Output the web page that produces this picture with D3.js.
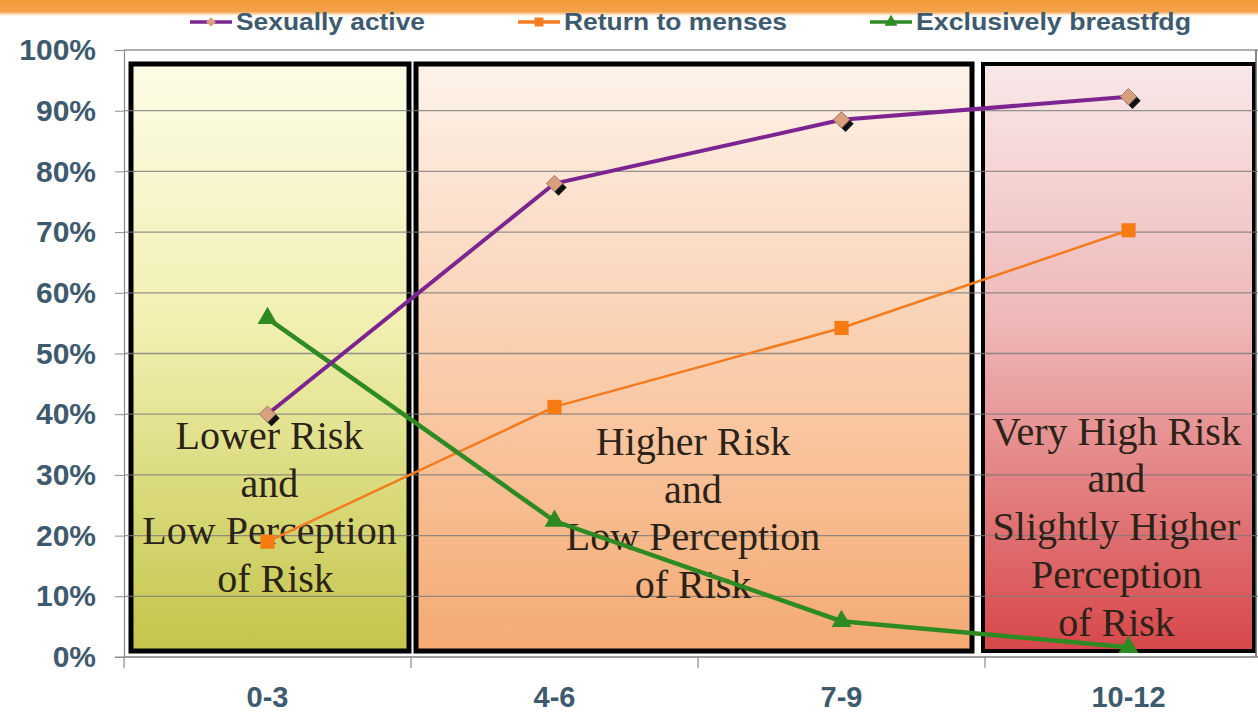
<!DOCTYPE html>
<html>
<head>
<meta charset="utf-8">
<script src="https://cdn.jsdelivr.net/npm/d3@7"></script>
<style>
  html, body { margin: 0; padding: 0; background: #ffffff; }
  svg { display: block; }
</style>
</head>
<body>
<svg id="chart" width="1258" height="720"></svg>
<script>
// Months postpartum groups
const categories = ["0-3", "4-6", "7-9", "10-12"];

// Share of women (fraction) per group
const sexuallyActive = [0.40, 0.78, 0.885, 0.923];
const returnToMenses = [0.19, 0.412, 0.542, 0.703];
const exclusivelyBreastfdg = [0.558, 0.224, 0.059, 0.016];

const seriesNames = ["Sexually active", "Return to menses", "Exclusively breastfdg"];

const yTicks = [0, 0.1, 0.2, 0.3, 0.4, 0.5, 0.6, 0.7, 0.8, 0.9, 1.0];

// Risk zones: first and last category index covered by each shaded panel
const zoneStart = [0, 1, 3];
const zoneEnd = [0, 2, 3];
const zoneText = [
  ["Lower Risk", "and", "Low Perception", "of Risk"],
  ["Higher Risk", "and", "Low Perception", "of Risk"],
  ["Very High Risk", "and", "Slightly Higher", "Perception", "of Risk"]
];

const svg = d3.select("#chart");
const W = 1258, H = 720;
const plotLeft = 124, plotRight = 1272, plotTop = 50, plotBottom = 657;

const x = d3.scaleBand().domain(categories).range([plotLeft, plotRight]).padding(0);
const y = d3.scaleLinear().domain([0, 1]).range([plotBottom, plotTop]);

const defs = svg.append("defs");

// Orange band across the top of the slide
const topGrad = defs.append("linearGradient").attr("id", "topBand")
  .attr("x1", 0).attr("y1", 0).attr("x2", 0).attr("y2", 1);
topGrad.append("stop").attr("offset", "0%").attr("stop-color", "#f29a36");
topGrad.append("stop").attr("offset", "72%").attr("stop-color", "#f4a24a");
topGrad.append("stop").attr("offset", "100%").attr("stop-color", "#ffffff");
svg.append("rect").attr("x", 0).attr("y", 0).attr("width", W).attr("height", 16)
  .attr("fill", "url(#topBand)");

// Panel fills
const zoneStops = [
  [["0%", "#fcfce6"], ["45%", "#f1efb0"], ["100%", "#c3c54a"]],
  [["0%", "#fdf2ea"], ["45%", "#fad2b4"], ["100%", "#f5aa72"]],
  [["0%", "#f9e8e8"], ["45%", "#eeb6b6"], ["100%", "#d7474a"]]
];
zoneStops.forEach((stops, i) => {
  const g = defs.append("linearGradient").attr("id", "zone" + i)
    .attr("x1", 0).attr("y1", 0).attr("x2", 0).attr("y2", 1);
  stops.forEach(s => g.append("stop").attr("offset", s[0]).attr("stop-color", s[1]));
});

const zoneInsetL = [7, 5, -2];
const zoneInsetR = [2, 13, 16];
const zones = svg.append("g");
zoneStart.forEach((s, i) => {
  const x0 = x(categories[s]) + zoneInsetL[i];
  const x1 = Math.min(x(categories[zoneEnd[i]]) + x.bandwidth() - zoneInsetR[i], W - 4);
  const y0 = y(1) + 14, y1 = y(0) - 6;
  zones.append("rect")
    .attr("x", x0).attr("y", y0).attr("width", x1 - x0).attr("height", y1 - y0)
    .attr("fill", "url(#zone" + i + ")")
    .attr("stroke", "#000").attr("stroke-width", i === 2 ? 4 : 5);
});

// Gridlines
svg.append("g").selectAll("line").data(yTicks).join("line")
  .attr("x1", plotLeft).attr("x2", W)
  .attr("y1", d => y(d)).attr("y2", d => y(d))
  .attr("stroke", "#7a7a7a").attr("stroke-opacity", 0.8).attr("stroke-width", 1.3);
svg.append("line").attr("x1", W - 2).attr("x2", W - 2).attr("y1", y(1)).attr("y2", y(0))
  .attr("stroke", "#606060").attr("stroke-width", 1.5);

// Y axis
const yAxis = svg.append("g").attr("transform", `translate(${plotLeft},0)`)
  .call(d3.axisLeft(y).tickValues(yTicks).tickFormat(d3.format(".0%")).tickSize(9).tickPadding(19));
yAxis.select(".domain").attr("stroke", "#8a8a8a").attr("stroke-width", 1.2);
yAxis.selectAll(".tick line").attr("stroke", "#8a8a8a");
yAxis.selectAll("text")
  .attr("fill", "#3e5a6e").attr("font-family", "Liberation Sans, Arial, sans-serif")
  .attr("font-weight", "bold").attr("font-size", 30);

// X axis
const xAxis = svg.append("g").attr("transform", `translate(0,${plotBottom})`)
  .call(d3.axisBottom(x).tickSize(0).tickPadding(29));
xAxis.select(".domain").remove();
xAxis.selectAll("text")
  .attr("fill", "#3e5a6e").attr("font-family", "Liberation Sans, Arial, sans-serif")
  .attr("font-weight", "bold").attr("font-size", 29);
svg.append("line").attr("x1", plotLeft - 9).attr("x2", W).attr("y1", plotBottom).attr("y2", plotBottom)
  .attr("stroke", "#8a8a8a").attr("stroke-width", 1.2);
svg.append("g").selectAll("line").data(categories).join("line")
  .attr("x1", d => x(d)).attr("x2", d => x(d))
  .attr("y1", plotBottom).attr("y2", plotBottom + 11)
  .attr("stroke", "#8a8a8a").attr("stroke-width", 1.2);

// Panel captions
const captions = svg.append("g")
  .attr("font-family", "Liberation Serif, Times New Roman, serif")
  .attr("font-size", 40).attr("fill", "#2b2218").attr("text-anchor", "middle");
const captionCenter = [x(categories[0]) + x.bandwidth() / 2 + 2,
  x(categories[1]) + x.bandwidth() - 5,
  x(categories[3]) + x.bandwidth() / 2 - 12];
const captionTop = [y(0.343), y(0.333), y(0.35)];
zoneText.forEach((lines, i) => {
  lines.forEach((t, j) => {
    captions.append("text")
      .attr("x", captionCenter[i] + (i === 0 && j === 3 ? 6 : 0))
      .attr("y", captionTop[i] + j * 47.8)
      .text(t);
  });
});

// Series lines
const lineGen = d3.line()
  .x((d, i) => x(categories[i]) + x.bandwidth() / 2)
  .y(d => y(d));

svg.append("path").datum(returnToMenses).attr("d", lineGen)
  .attr("fill", "none").attr("stroke", "#f47c20").attr("stroke-width", 2.5);
svg.append("path").datum(exclusivelyBreastfdg).attr("d", lineGen)
  .attr("fill", "none").attr("stroke", "#2e8a22").attr("stroke-width", 4.5);
svg.append("path").datum(sexuallyActive).attr("d", lineGen)
  .attr("fill", "none").attr("stroke", "#7c2590").attr("stroke-width", 4);

const cx = i => x(categories[i]) + x.bandwidth() / 2;

// Markers
const diamond = d3.symbol().type(d3.symbolDiamond2).size(170);
const square = d3.symbol().type(d3.symbolSquare).size(200);
const triangle = d3.symbol().type(d3.symbolTriangle).size(170);

svg.append("g").selectAll("path").data(returnToMenses).join("path")
  .attr("d", square).attr("transform", (d, i) => `translate(${cx(i)},${y(d)})`)
  .attr("fill", "#f77a12");
svg.append("g").selectAll("path").data(exclusivelyBreastfdg).join("path")
  .attr("d", triangle).attr("transform", (d, i) => `translate(${cx(i)},${y(d)})`)
  .attr("fill", "#2e8a22");
const sa = svg.append("g");
sa.selectAll("path.shadow").data(sexuallyActive).join("path").attr("class", "shadow")
  .attr("d", diamond).attr("transform", (d, i) => `translate(${cx(i) + 4},${y(d) + 4})`)
  .attr("fill", "#111");
sa.selectAll("path.mark").data(sexuallyActive).join("path").attr("class", "mark")
  .attr("d", diamond).attr("transform", (d, i) => `translate(${cx(i)},${y(d)})`)
  .attr("fill", "#d9a07e").attr("stroke", "#a07a6a").attr("stroke-width", 1);

// Legend
const legendX = [190, 518, 870];
const legendTextLen = [189, 223, 275];
const legendColors = ["#7c2590", "#f47c20", "#2e8a22"];
const legend = svg.append("g");
seriesNames.forEach((name, i) => {
  const g = legend.append("g").attr("transform", `translate(${legendX[i]},22)`);
  g.append("line").attr("x1", 0).attr("x2", 42).attr("y1", 0).attr("y2", 0)
    .attr("stroke", legendColors[i]).attr("stroke-width", 3.5);
  const sym = i === 0 ? d3.symbol().type(d3.symbolDiamond2).size(60)
    : i === 1 ? d3.symbol().type(d3.symbolSquare).size(80)
    : d3.symbol().type(d3.symbolTriangle).size(70);
  g.append("path").attr("d", sym).attr("transform", "translate(21,0)")
    .attr("fill", i === 0 ? "#d9a07e" : legendColors[i]);
  g.append("text").attr("x", 46).attr("y", 8).text(name)
    .attr("textLength", legendTextLen[i]).attr("lengthAdjust", "spacingAndGlyphs")
    .attr("fill", "#3e5a6e").attr("font-family", "Liberation Sans, Arial, sans-serif")
    .attr("font-weight", "bold").attr("font-size", 23);
});
</script>
</body>
</html>
